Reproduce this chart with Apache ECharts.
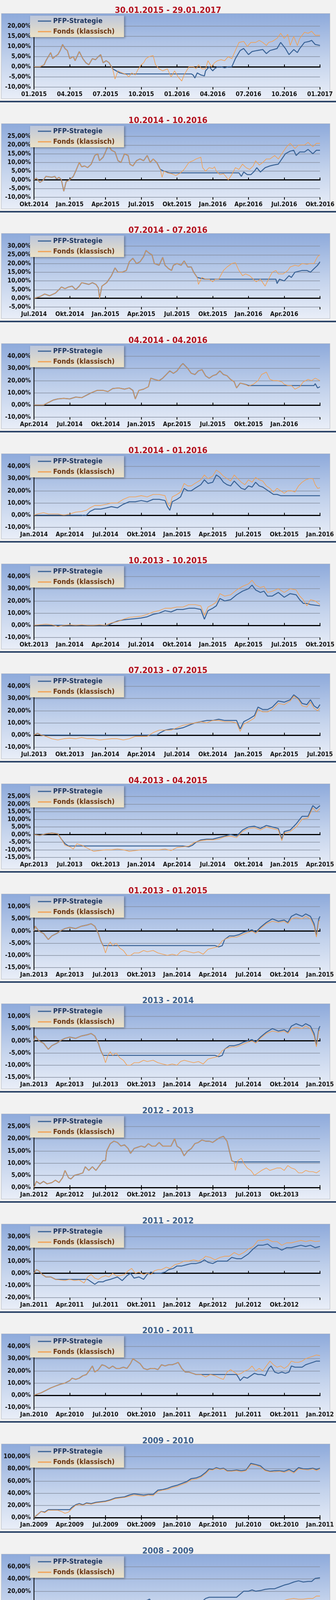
<!DOCTYPE html>
<html><head><meta charset="utf-8">
<script src="https://cdn.jsdelivr.net/npm/echarts@6/dist/echarts.min.js"></script>
<style>
body{margin:0;background:#f2f2f2;width:860px;height:4232px;position:relative;overflow:hidden}
.pan{position:absolute;left:0;width:860px;height:282px}
.box{position:absolute;left:3px;top:34px;width:840px;height:217px;border:1px solid #b8bcc4;background:linear-gradient(#8eaadb,#c4d3ec 55%,#e9eef8)}
.sep{position:absolute;left:0;top:258px;width:860px;height:4px;background:#2b4468}
.ch{position:absolute;left:0;top:0;width:860px;height:258px}
</style></head><body>
<script>
// ---------- DATA ----------
const titles=["30.01.2015 - 29.01.2017","10.2014 - 10.2016","07.2014 - 07.2016","04.2014 - 04.2016","01.2014 - 01.2016","10.2013 - 10.2015","07.2013 - 07.2015","04.2013 - 04.2015","01.2013 - 01.2015","2013 - 2014","2012 - 2013","2011 - 2012","2010 - 2011","2009 - 2010","2008 - 2009"];
const xLabels1=["01.2015","04.2015","07.2015","10.2015","01.2016","04.2016","07.2016","10.2016","01.2017"];
const xLabels2=["Okt.2014","Jan.2015","Apr.2015","Jul.2015","Okt.2015","Jan.2016","Apr.2016","Jul.2016","Okt.2016"];
const xLabels3=["Jul.2014","Okt.2014","Jan.2015","Apr.2015","Jul.2015","Okt.2015","Jan.2016","Apr.2016",""];
const xLabels4=["Apr.2014","Jul.2014","Okt.2014","Jan.2015","Apr.2015","Jul.2015","Okt.2015","Jan.2016",""];
const xLabels5=["Jan.2014","Apr.2014","Jul.2014","Okt.2014","Jan.2015","Apr.2015","Jul.2015","Okt.2015","Jan.2016"];
const xLabels6=["Okt.2013","Jan.2014","Apr.2014","Jul.2014","Okt.2014","Jan.2015","Apr.2015","Jul.2015","Okt.2015"];
const xLabels7=["Jul.2013","Okt.2013","Jan.2014","Apr.2014","Jul.2014","Okt.2014","Jan.2015","Apr.2015","Jul.2015"];
const xLabels8=["Apr.2013","Jul.2013","Okt.2013","Jan.2014","Apr.2014","Jul.2014","Okt.2014","Jan.2015","Apr.2015"];
const xLabels9=["Jan.2013","Apr.2013","Jul.2013","Okt.2013","Jan.2014","Apr.2014","Jul.2014","Okt.2014","Jan.2015"];
const xLabels11=["Jan.2012","Apr.2012","Jul.2012","Okt.2012","Jan.2013","Apr.2013","Jul.2013","Okt.2013",""];
const xLabels12=["Jan.2011","Apr.2011","Jul.2011","Okt.2011","Jan.2012","Apr.2012","Jul.2012","Okt.2012",""];
const xLabels13=["Jan.2010","Apr.2010","Jul.2010","Okt.2010","Jan.2011","Apr.2011","Jul.2011","Okt.2011","Jan.2012"];
const xLabels14=["Jan.2009","Apr.2009","Jul.2009","Okt.2009","Jan.2010","Apr.2010","Jul.2010","Okt.2010","Jan.2011"];
const xLabels15=["Jan.2008","Apr.2008","Jul.2008","Okt.2008","Jan.2009","Apr.2009","Jul.2009","Okt.2009","Jan.2010"];
// y axis ranges [min,max,interval] in %
const yRanges=[[-10,20,5],[-10,25,5],[-5,30,5],[-10,40,10],[-10,40,10],[-10,40,10],[-10,40,10],[-15,25,5],[-15,10,5],[-15,10,5],[0,25,5],[-20,30,10],[-10,40,10],[0,100,20],[-40,60,20]];

// values: [month since start, % return]
const shared1=[[0,0],[0.5,0],[0.85,1],[1.0,3],[1.4,7],[1.57,4],[1.75,5],[2.0,6],[2.2,8],[2.4,11],[2.6,9],[2.8,8],[3.0,4],[3.3,5],[3.45,3],[3.8,7.5],[4.1,4],[4.35,2],[4.6,1],[4.9,4],[5.16,3.5],[5.4,5],[5.6,6],[5.8,2],[6.06,3],[6.3,2],[6.6,-1]];
const fondsTail1=[[6.8,-6],[7.05,-2],[7.4,-3],[7.8,-4],[7.95,-5],[8.2,-3],[8.5,-4],[8.76,-1],[9.0,1],[9.2,2],[9.4,4],[9.66,5],[10.0,5.5],[10.2,1],[10.5,-1],[10.8,-2],[11.2,-1],[11.5,-5],[11.8,-2],[12.1,-5],[12.4,-7],[12.6,-4],[13.0,0],[13.4,0],[13.6,-1],[13.8,1],[14.1,-1],[14.4,-1],[14.6,3],[14.9,0],[15.15,2],[15.4,3],[15.7,3.5],[16.0,3],[16.3,5],[16.6,4],[16.9,8],[17.2,12],[17.6,12.5],[17.9,10],[18.2,12],[18.6,12],[18.9,13],[19.2,12],[19.5,10.5],[19.7,12],[20.0,12.5],[20.4,14],[20.7,16.5],[21.0,14],[21.3,16],[21.5,10.5],[21.8,15],[22.1,10.5],[22.3,14],[22.7,17],[23.0,16.5],[23.3,17.5],[23.6,15.5],[24,15.5]];
const pfpTail1=[[6.9,-2],[7.2,-3],[7.6,-3.5],[13.2,-3.5],[13.35,-4],[13.5,-5.5],[13.7,-3],[14.0,-4],[14.3,-4.5],[14.4,-2],[14.7,0],[15.0,-2],[15.15,-1],[15.4,0],[15.7,0],[16.0,-0.5],[16.3,0],[16.6,0],[16.9,4],[17.3,8],[17.6,9],[18.0,6],[18.3,7.5],[18.7,8],[19.2,8.5],[19.5,6.5],[19.8,8],[20.4,9],[20.7,12],[21.1,9],[21.4,6],[21.8,8.5],[22.1,7],[22.3,9],[22.7,12],[23.1,12.5],[23.3,13],[23.6,11],[24,10.5]];

const shared2=[[0,0],[0.2,1],[0.5,-1.5],[0.8,0],[1.0,2],[1.5,1.5],[1.75,2],[1.9,0.5],[2.1,1.5],[2.3,0],[2.5,-6.5],[2.7,-1],[3,0],[3.3,2],[3.5,5],[3.8,10],[4.0,7.5],[4.25,8],[4.5,7],[4.8,9],[5.1,14],[5.35,15],[5.5,11],[5.8,13],[6.0,16],[6.25,20],[6.5,17],[6.8,16],[7.05,11],[7.3,10],[7.6,15],[7.9,14],[8.05,9],[8.3,8],[8.6,11],[8.9,12],[9.2,11],[9.5,14],[9.75,10],[10.0,12],[10.3,10],[10.6,6]];
const fondsTail2=[[10.75,1.5],[10.9,5],[11.2,4],[11.55,3.5],[11.9,2.5],[12.3,4],[12.6,6],[13.0,10],[13.35,11],[13.6,12],[14.0,13],[14.15,7],[14.4,5],[14.7,7],[15.0,6.5],[15.15,7.5],[15.3,5],[15.6,3],[15.9,3.5],[16.1,2],[16.3,0],[16.6,3],[16.9,7],[17.2,6],[17.5,9],[17.8,7],[18.1,6],[18.4,8],[18.6,11],[18.9,8.5],[19.2,10],[19.5,12],[19.8,12],[20.2,14],[20.5,12],[20.9,16],[21.2,19],[21.5,21],[21.9,18],[22.2,20],[22.7,20],[23.0,21.5],[23.4,19],[23.7,21],[24,21]];
const pfpTail2=[[10.9,5],[11.4,4],[17.2,4],[17.4,2],[17.6,4.5],[17.9,3],[18.2,3],[18.5,5],[18.7,7],[19.0,4.5],[19.4,7],[19.8,8],[20.1,8.5],[20.5,9],[20.7,11],[21.1,15],[21.5,16.5],[21.8,17],[22.0,14],[22.3,16],[22.7,16],[23.0,17.5],[23.4,15],[23.7,17],[24,17]];

const shared3=[[0,0],[0.5,1],[0.9,2.5],[1.3,1.5],[1.8,3],[2.1,5],[2.3,6.5],[2.6,5.5],[2.9,6.5],[3.2,7],[3.5,5],[3.8,7],[4.0,9],[4.3,8.5],[4.6,8],[4.9,9],[5.2,8],[5.4,6],[5.5,0],[5.7,7],[6.1,9],[6.5,13],[6.8,17.5],[7.05,15],[7.4,15],[7.75,16],[8.0,21],[8.3,23],[8.6,20],[8.9,21],[9.2,24],[9.4,27.5],[9.65,26],[9.9,25],[10.1,20],[10.5,19],[10.8,23.5],[11.0,19],[11.3,17],[11.55,16],[11.7,19],[12.0,20],[12.35,19],[12.6,21.5],[12.9,18],[13.2,18],[13.4,15],[13.7,12]];
const fondsTail3=[[13.8,8],[14.1,12],[14.4,11],[14.7,11],[15.0,9.5],[15.2,11],[15.5,11],[15.9,16],[16.2,18],[16.6,20],[16.9,20.5],[17.2,16],[17.5,13],[17.75,14],[18.1,13],[18.4,11],[18.65,9.5],[19.0,11],[19.4,7],[19.6,10],[20.0,15],[20.3,16],[20.5,14],[20.9,14],[21.3,16],[21.5,18],[21.9,19],[22.2,18.5],[22.5,20],[22.9,19.5],[23.2,20],[23.5,20],[23.8,24],[24,25]];
const pfpTail3=[[14.0,11.5],[14.4,11],[20.3,11],[20.4,8.5],[20.6,11],[21.0,10],[21.4,13],[21.6,12],[21.9,15],[22.2,15.5],[22.5,16],[22.9,16],[23.2,15],[23.5,17],[23.8,19],[24,21]];

const shared4=[[0,0],[0.8,0],[1.2,2],[1.6,4],[2.0,5],[2.5,5.5],[3.0,5],[3.5,6.5],[4.0,6],[4.4,8],[4.8,10],[5.3,12],[5.8,12],[6.2,11],[6.6,13.5],[7.1,14],[7.6,13],[8.0,14],[8.3,12],[8.5,5],[8.8,12],[9.2,13],[9.6,15],[9.8,22],[10.1,21],[10.5,20],[10.8,22],[11.1,25],[11.4,28],[11.7,26],[12.0,28],[12.3,32],[12.5,34],[12.9,30],[13.2,26],[13.5,25],[13.8,28],[14.1,29],[14.4,24],[14.7,22],[15.0,24],[15.3,25],[15.6,28],[15.9,25],[16.2,24],[16.5,21],[16.8,19],[17.0,14],[17.3,18]];
const fondsTail4=[[17.7,17],[18.0,15.5],[18.4,17],[18.8,20],[19.1,25],[19.5,27],[19.8,21],[20.1,20],[20.4,20],[20.8,19],[21.0,17],[21.3,16],[21.6,16],[21.9,13],[22.3,15],[22.6,19],[23.0,21],[23.3,20],[23.6,22],[24,20]];
const pfpTail4=[[17.7,17],[18.0,16],[23.5,16],[23.6,17.5],[23.8,14],[24,15]];

const fonds5=[[0,0],[0.3,1],[0.8,2],[1.2,1],[1.6,1],[2.0,1],[2.5,0],[3,1],[3.5,2.5],[4.0,3],[4.4,4],[4.7,6],[5.1,8],[5.6,8],[6.1,9],[6.5,10],[7.0,10],[7.5,13],[8.0,15],[8.5,15],[9.0,16],[9.5,15],[10.0,17],[10.5,17],[11.0,16],[11.2,10],[11.4,7],[11.6,15],[12.0,17],[12.3,19],[12.6,26],[12.9,24],[13.2,24],[13.5,26],[14.0,29],[14.3,33],[14.6,30],[15.0,32],[15.3,37],[15.6,35],[15.9,32],[16.2,30],[16.5,28],[16.8,33],[17.1,30],[17.4,27],[17.7,25],[18.0,29],[18.3,27],[18.6,31],[18.9,29],[19.2,28],[19.5,24],[19.8,22],[20.1,19],[20.4,22],[20.7,20],[21.0,18],[21.3,20],[21.6,20],[21.9,19],[22.2,24],[22.5,27],[22.8,29],[23.1,30],[23.4,30],[23.6,25],[23.8,22],[24,22.5]];
const pfp5=[[0,0],[4.0,0],[4.2,-0.5],[4.4,0],[4.7,3],[5.1,5],[5.6,5],[6.1,6],[6.5,7],[7.0,6],[7.5,9],[8.0,11],[8.5,11],[9.0,12],[9.5,11],[10.0,13],[10.5,13],[11.0,12],[11.2,7],[11.4,4],[11.6,11],[12.0,13],[12.3,15],[12.6,22],[12.9,20],[13.2,20],[13.5,22],[14.0,25],[14.3,29],[14.6,26],[15.0,27],[15.3,33],[15.6,31],[15.9,27],[16.2,25],[16.5,24],[16.8,28],[17.1,25],[17.4,22],[17.7,21],[18.0,24],[18.3,23],[18.6,27],[18.9,24],[19.2,23],[19.5,21],[19.8,19],[20.1,17],[20.4,17],[20.7,16],[24,16]];

const fonds6=[[0,0],[0.5,0.5],[1,1],[1.5,0.5],[2,-1],[2.5,0],[3,0.5],[3.5,0],[4,0.5],[4.5,0],[5,0],[5.5,0.5],[6,0],[6.5,2],[7,3],[7.5,5],[8,6.5],[8.5,7],[9,7.5],[9.5,9],[10,11],[10.5,12],[11,14],[11.5,14],[12,15],[12.5,15],[13,17],[13.5,17],[14,16],[14.3,8],[14.6,15],[15,17],[15.3,19],[15.6,26],[16,24],[16.5,25],[17,29],[17.5,32],[18,34],[18.3,37],[18.6,33],[19,31],[19.3,32],[19.6,27],[20,28],[20.5,30],[21,27],[21.5,30],[22,29],[22.3,24],[22.6,21],[22.9,16],[23.2,21],[23.6,20],[24,17]];
const pfp6=[[0,0],[6.2,0],[6.6,2],[7,3.5],[7.5,4.5],[8,5],[8.5,5.5],[9,6],[9.5,7],[10,9],[10.5,10],[11,12],[11.5,11],[12,13],[12.5,13],[13,14],[13.5,14],[14,13],[14.3,5],[14.6,12],[15,14],[15.3,16],[15.6,22],[16,20],[16.5,21],[17,25],[17.5,28],[18,30],[18.3,33],[18.6,29],[19,27],[19.3,28],[19.6,24],[20,24],[20.5,27],[21,23],[21.5,26],[22,25],[22.3,21],[22.6,18],[22.9,18],[23.2,17],[24,16]];

const fonds7=[[0,0],[0.3,1.5],[0.6,0],[1,-1],[1.5,-3],[2,-4],[2.5,-3],[3,-2.5],[3.5,-3],[4,-2],[4.5,-3],[5,-3],[5.5,-4],[6,-3.5],[6.5,-3],[7,-3],[7.5,-4],[8,-3],[8.5,-1],[9,-1],[9.5,-1],[10,2],[10.5,4],[11,4],[11.5,4],[12,6],[12.5,8],[13,9],[13.5,10],[14,11],[14.5,10],[15,12],[15.5,12],[16,11],[16.5,11],[17,10],[17.3,3],[17.6,9],[18,11],[18.5,14],[18.8,21],[19.2,19],[19.6,19],[20,21],[20.5,26],[21,25],[21.5,28],[21.8,32],[22.2,29],[22.5,24],[22.9,23],[23.2,27],[23.5,22],[23.8,20],[24,22]];
const pfp7=[[0,0],[0.3,1.5],[0.6,0],[10.3,0],[10.6,2],[11,4],[11.5,5],[12,5],[12.5,6],[13,8],[13.5,10],[14,11],[14.5,12],[15,12],[15.5,13],[16,12],[16.5,12],[17,12],[17.3,5],[17.6,11],[18,13],[18.5,16],[18.8,23],[19.2,21],[19.6,21],[20,23],[20.5,28],[21,27],[21.5,29],[21.8,33],[22.2,30],[22.5,26],[22.9,25],[23.2,29],[23.5,24],[23.8,22],[24,25]];

const fonds8=[[0,0],[0.5,-0.5],[1,0.5],[1.5,1],[2,0.5],[2.3,-3],[2.6,-7],[3,-8],[3.3,-9.5],[3.6,-6],[4,-7],[4.5,-9],[5,-11],[5.5,-10.5],[6,-10],[6.5,-10],[7,-9.5],[7.5,-10],[8,-11],[8.5,-10.5],[9,-10],[9.5,-10],[10,-10],[10.5,-10],[11,-9.5],[11.5,-10.5],[12,-8.5],[12.5,-8],[13,-7.5],[13.5,-5],[14,-4],[14.5,-3.5],[15,-3.5],[15.5,-3],[16,-1.5],[16.5,-1],[17,-2],[17.5,2],[18,4],[18.5,4.5],[19,3],[19.5,5],[20,4],[20.5,3],[20.8,-4],[21,1],[21.5,2],[22,5],[22.5,10],[23,11],[23.4,17.5],[23.7,15],[24,17]];
const pfp8=[[0,0],[0.5,-0.5],[1,0.5],[1.5,1],[2,0.5],[2.3,-3],[2.6,-6],[2.9,-7.5],[12.5,-7.5],[13,-8],[13.3,-7],[13.6,-5],[14,-3.5],[14.5,-3],[15,-3],[15.5,-2],[16,-1],[16.5,0],[17,-1],[17.5,3],[18,5],[18.5,5.5],[19,4],[19.5,6],[20,5],[20.5,4],[20.8,-3],[21,2],[21.5,3],[22,7],[22.5,12],[23,12],[23.4,19],[23.7,17],[24,19]];

const shared9=[[0,0],[0.1,2],[0.4,0],[0.8,-1],[1.2,-3.5],[1.5,-2],[1.9,-1],[2.2,0],[2.6,1],[3,1.5],[3.5,1],[4,2],[4.5,2.5],[4.8,3],[5.1,2],[5.4,-1],[5.6,-4],[5.8,-6]];
const fondsTail9=[[6,-9],[6.2,-6],[6.4,-4.5],[6.6,-6],[6.9,-5],[7.2,-7],[7.5,-8],[7.8,-10],[8.1,-10],[8.4,-9],[8.8,-9],[9.2,-8],[9.5,-8.5],[10,-8],[10.4,-9],[10.8,-9.5],[11.2,-10],[11.6,-9.5],[12,-10],[12.3,-8.5],[12.6,-8],[13,-8.5],[13.4,-9],[13.8,-8.5],[14.2,-9.5],[14.6,-7.5],[15,-7],[15.4,-6.5],[15.8,-4],[16.2,-3],[16.6,-2.5],[17,-2.5],[17.5,-1.5],[18,-0.5],[18.3,0],[18.6,-1],[19,1],[19.5,3],[20,4],[20.5,3.5],[21,4],[21.3,3],[21.6,5],[22,5.5],[22.5,5],[22.8,6],[23.2,5],[23.5,2],[23.7,-2.5],[23.9,4],[24,4.5]];
const pfpTail9=[[6.0,-6],[15.2,-6],[15.5,-6.5],[15.8,-6],[16.0,-3.5],[16.4,-2],[16.8,-2],[17.2,-1.5],[17.6,-0.5],[18.0,0],[18.3,0.5],[18.6,-0.5],[19,1.5],[19.5,3.5],[20,5],[20.5,4],[21,4.5],[21.3,3.5],[21.6,6],[22,7],[22.5,6],[22.8,7],[23.2,6],[23.5,3],[23.7,-2],[23.9,5],[24,6]];

const shared11=[[0,0],[0.2,2.5],[0.5,1.5],[0.8,2.5],[1.1,1.5],[1.5,2],[1.8,3],[2.1,2],[2.4,4],[2.6,7],[2.9,4],[3.1,3.5],[3.4,5],[3.8,5.5],[4.1,6],[4.3,8.5],[4.6,7],[4.9,8.5],[5.2,7],[5.5,9],[5.8,11],[6.0,11],[6.1,15],[6.4,18],[6.7,19],[7.0,18.5],[7.3,17],[7.6,17.5],[7.9,16],[8.1,14],[8.4,16],[8.7,16.5],[9.0,17],[9.3,16.5],[9.6,18],[9.9,17],[10.2,17],[10.5,18.5],[10.8,17],[11.1,17],[11.5,17],[11.8,20],[12.0,17],[12.3,16],[12.6,13],[12.9,15],[13.2,16],[13.5,18],[13.8,18.5],[14.1,19.5],[14.4,19],[14.7,19],[15.0,18.5],[15.3,19.5],[15.6,20.5],[15.9,21],[16.2,19],[16.4,15],[16.6,11],[16.8,10.5]];
const fondsTail11=[[16.9,7],[17.1,11],[17.4,12],[17.6,10],[17.9,8],[18.2,7],[18.5,5],[18.8,6],[19.1,7],[19.5,8],[19.8,7],[20.1,7.5],[20.4,8],[20.7,8],[21.0,7],[21.3,9],[21.6,8],[21.9,7.5],[22.2,6],[22.5,6],[22.8,7],[23.1,6.5],[23.4,6.5],[23.7,6],[24,7]];
const pfpTail11=[[17.0,10.5],[24,10.5]];

const fonds12=[[0,0],[0.2,3],[0.4,2],[0.7,-1],[1,-3],[1.4,-3],[1.8,-5],[2.2,-5.5],[2.6,-6],[3,-5],[3.4,-6],[3.8,-5.5],[4.2,-8],[4.5,-3],[4.8,-1],[5.1,-4],[5.4,-5],[5.7,-3],[6.0,-2],[6.3,-3],[6.6,0],[6.9,-2],[7.2,-2],[7.6,-1],[7.9,2],[8.2,4],[8.5,0],[8.8,1],[9.2,-1],[9.5,0],[9.8,-1],[10.1,2],[10.4,3],[10.7,3],[11.1,5],[11.4,4],[11.8,7],[12.2,8],[12.6,10],[13.0,10],[13.4,11],[13.8,10],[14.2,12],[14.4,14],[14.8,13],[15.2,11],[15.6,13],[16.0,14],[16.4,14],[16.8,17],[17.2,15],[17.6,17],[18.0,20],[18.4,22],[18.8,27],[19.2,27],[19.6,28],[20.0,26],[20.4,26],[20.8,23],[21.2,25],[21.6,25],[22.0,26],[22.4,27],[22.8,26],[23.2,27],[23.6,26],[24,26.5]];
const pfp12=[[0,0],[0.2,3],[0.4,2],[0.7,-1],[1,-3],[1.4,-3],[1.8,-5],[4.5,-5],[5.1,-9],[5.4,-7],[5.8,-7],[6.0,-6],[6.4,-5],[6.7,-4],[7.0,-3],[7.4,-6],[7.8,-2],[8.1,0],[8.4,-4],[8.8,-3],[9.2,-5],[9.5,-1],[9.8,1],[10.2,0],[10.6,0],[11.0,1],[11.3,3],[11.7,4],[12.0,6],[12.4,6],[12.8,7],[13.2,8],[13.6,8],[14.0,9],[14.3,11],[14.6,9],[15.0,8],[15.4,10],[15.8,10],[16.2,10],[16.6,13],[17.0,12],[17.4,12],[17.7,14],[18.0,16],[18.4,20],[18.8,23],[19.2,23],[19.6,24],[20.0,21],[20.4,21],[20.8,19],[21.2,21],[21.6,21],[22.0,22],[22.4,23],[22.8,22],[23.2,23],[23.6,21],[24,22]];

const shared13=[[0,0],[0.3,1],[0.6,2],[1.0,4],[1.4,6],[1.8,7.5],[2.2,9],[2.6,10],[3.0,12],[3.2,14],[3.5,13],[3.8,14],[4.1,16],[4.4,17],[4.7,21],[4.9,24],[5.1,19],[5.4,21],[5.7,25],[6.0,24],[6.3,22],[6.6,24],[6.9,22],[7.2,22],[7.5,23],[7.8,22],[8.1,26],[8.3,30],[8.6,28],[8.9,26],[9.2,22],[9.5,21],[9.8,22],[10.1,22],[10.4,21],[10.7,25],[11.0,24],[11.3,25],[11.6,25],[11.9,26],[12.1,27],[12.4,22],[12.7,19],[13.0,19],[13.3,18],[13.6,17]];
const fondsTail13=[[14.0,17],[14.4,15],[14.8,17],[15.2,16],[15.6,14],[15.9,13],[16.2,19],[16.5,21],[16.8,19],[17.1,17],[17.4,18],[17.7,20],[18.0,21],[18.3,24],[18.6,20],[18.9,22],[19.2,20],[19.5,24],[19.8,28],[20.1,25],[20.4,23],[20.7,24],[21.0,22],[21.3,24],[21.6,28],[21.9,27],[22.2,27],[22.5,28],[22.8,30],[23.1,31],[23.4,32],[23.7,33],[24,32.5]];
const pfpTail13=[[17.0,17],[17.2,14],[17.3,12],[17.6,15],[17.9,14],[18.2,16],[18.5,18],[18.8,17],[19.1,17],[19.4,16],[19.7,22],[19.9,24],[20.2,19],[20.5,18],[20.8,19],[21.1,18],[21.4,19],[21.6,24],[21.9,23],[22.2,23],[22.5,23],[22.8,25],[23.1,26],[23.4,27],[23.7,28],[24,28]];

const fonds14=[[0,0],[0.3,5],[0.6,10],[0.9,8],[1.2,12],[1.6,12],[2.0,12],[2.3,10],[2.6,7],[2.9,9],[3.2,15],[3.5,20],[3.8,22],[4.1,20],[4.4,23],[4.8,22],[5.2,24],[5.6,25],[6.0,26],[6.4,28],[6.8,31],[7.2,32],[7.6,33],[8.0,35],[8.4,37],[8.8,36],[9.2,35],[9.6,37],[10.0,36],[10.4,43],[10.8,45],[11.2,46],[11.6,49],[12.0,51],[12.4,54],[12.8,57],[13.2,62],[13.6,63],[14.0,66],[14.4,72],[14.7,78],[15.0,78],[15.3,81],[15.6,79],[15.9,80],[16.2,76],[16.6,76],[17.0,77],[17.4,75],[17.8,77],[18.2,87],[18.6,86],[19.0,83],[19.4,77],[19.8,75],[20.2,75],[20.6,76],[21.0,74],[21.4,77],[21.8,73],[22.2,80],[22.6,79],[23.0,78],[23.4,80],[23.7,77],[24,80]];
const pfp14=[[0,0],[0.3,5],[0.6,10],[0.9,9],[1.2,13],[1.6,13],[2.0,13],[3.0,13],[3.2,17],[3.5,21],[3.8,23],[4.1,21],[4.4,24],[4.8,23],[5.2,25],[5.6,26],[6.0,27],[6.4,29],[6.8,32],[7.2,33],[7.6,34],[8.0,37],[8.4,39],[8.8,38],[9.2,37],[9.6,38],[10.0,38],[10.4,45],[10.8,46],[11.2,48],[11.6,51],[12.0,53],[12.4,56],[12.8,59],[13.2,64],[13.6,65],[14.0,68],[14.4,74],[14.7,80],[15.0,79],[15.3,82],[15.6,80],[15.9,81],[16.2,77],[16.6,77],[17.0,78],[17.4,77],[17.8,78],[18.2,89],[18.6,87],[19.0,85],[19.4,78],[19.8,76],[20.2,77],[20.6,77],[21.0,76],[21.4,79],[21.8,75],[22.2,82],[22.6,80],[23.0,80],[23.4,81],[23.7,79],[24,81]];

const fonds15=[[0,0],[0.5,1],[1,1.5],[1.5,0],[2,-2],[2.5,-4],[3,-6],[3.5,-6],[4,-7],[4.5,-5],[5,-4],[5.5,-5],[6,-3],[6.5,-5],[7,-8],[7.5,-7],[8,-5],[8.5,-2],[9,0],[9.5,3],[9.8,-3],[10.2,-6],[10.5,-10],[10.8,-15],[11.1,-21],[11.4,-17],[11.7,-18],[12,-23],[12.3,-21],[12.6,-24],[12.8,-27],[13.1,-22],[13.4,-22],[13.7,-17],[14,-15],[14.3,-12],[14.6,-13],[15,-12],[15.3,-13],[15.6,-15],[15.9,-16],[16.2,-13],[16.5,-10],[16.8,-6],[17.1,-5],[17.4,-4],[17.8,-6],[18.2,-5],[18.6,-3],[19,-2],[19.4,-2],[19.8,0],[20.2,2],[20.6,3],[21,5],[21.4,7],[21.8,8],[22.2,7],[22.6,7],[23,8],[23.4,8],[23.7,12],[24,12]];
const pfp15=[[0,0],[0.5,1],[1,1],[1.5,0],[4.5,0],[5,-1],[5.5,-1],[6,-3],[6.5,-5],[7,-4],[7.5,-3],[8,-2],[8.5,0],[9,3],[9.5,5],[9.7,7],[9.9,0],[10.2,-2],[10.5,-5],[13.5,-5],[13.8,-3],[14.1,3],[14.4,8],[14.7,10],[17.0,10],[17.3,15],[17.6,20],[18.0,20],[18.3,22],[18.6,20],[19.0,21],[19.4,23],[19.8,24],[20.2,24],[20.6,27],[21.0,30],[21.4,32],[21.8,35],[22.2,37],[22.6,35],[23.0,36],[23.3,36],[23.6,41],[24,42]];

const panels=[
 [xLabels1,shared1.concat(pfpTail1),shared1.concat(fondsTail1)],
 [xLabels2,shared2.concat(pfpTail2),shared2.concat(fondsTail2)],
 [xLabels3,shared3.concat(pfpTail3),shared3.concat(fondsTail3)],
 [xLabels4,shared4.concat(pfpTail4),shared4.concat(fondsTail4)],
 [xLabels5,pfp5,fonds5],
 [xLabels6,pfp6,fonds6],
 [xLabels7,pfp7,fonds7],
 [xLabels8,pfp8,fonds8],
 [xLabels9,shared9.concat(pfpTail9),shared9.concat(fondsTail9)],
 [xLabels9,shared9.concat(pfpTail9),shared9.concat(fondsTail9)],
 [xLabels11,shared11.concat(pfpTail11),shared11.concat(fondsTail11)],
 [xLabels12,pfp12,fonds12],
 [xLabels13,shared13.concat(pfpTail13),shared13.concat(fondsTail13)],
 [xLabels14,pfp14,fonds14],
 [xLabels15,pfp15,fonds15]
];
// ---------- RENDER ----------
const FONT="'Liberation Sans Narrow','DejaVu Sans Condensed','Roboto Condensed',sans-serif";
const STEP=281.7;
panels.forEach((p,k)=>{
  const d=document.createElement('div');d.className='pan';d.style.top=(k*STEP)+'px';
  d.innerHTML='<div class="box"></div><div class="sep"></div><div class="ch"></div>';
  document.body.appendChild(d);
  const c=echarts.init(d.querySelector('.ch'),null,{renderer:'canvas'});
  const [labels,pfp,fonds]=p; const yr=yRanges[k];
  const xBase={type:'value',min:0,max:24,interval:3,splitLine:{show:false}};
  c.setOption({
    animation:false,
    title:{text:titles[k],left:'center',top:11,textStyle:{fontFamily:FONT,fontWeight:'bold',fontSize:22,color:k<9?'#b3121f':'#3b5f8c'}},
    grid:{left:87,right:41,top:67,height:156},
    legend:{left:77,top:40,orient:'vertical',itemWidth:34,itemHeight:3,itemGap:9,padding:[5,24,5,20],
      icon:'rect',backgroundColor:new echarts.graphic.LinearGradient(0,0,0,1,[{offset:0,color:'#bcc6dc'},{offset:1,color:'#ece2c6'}]),
      shadowColor:'rgba(0,0,0,0.35)',shadowBlur:5,shadowOffsetX:2,shadowOffsetY:2,
      textStyle:{fontFamily:FONT,fontSize:18,fontWeight:'bold'},
      data:[{name:'PFP-Strategie',textStyle:{color:'#1f3660'}},{name:'Fonds (klassisch)',textStyle:{color:'#6b3510'}}]},
    xAxis:[
      Object.assign({},xBase,{position:'bottom',axisLine:{show:false,onZero:false},axisTick:{show:false},
        axisLabel:{margin:11,fontFamily:FONT,fontWeight:'bold',fontSize:16,color:'#111',formatter:v=>labels[Math.round(v/3)]||''}}),
      Object.assign({},xBase,{position:'bottom',axisLine:{show:true,onZero:true,lineStyle:{color:'#000',width:3}},
        axisTick:{show:true,inside:true,length:6,lineStyle:{color:'#000',width:2}},axisLabel:{show:false}}),
      Object.assign({},xBase,{position:'bottom',axisLine:{show:false,onZero:true},
        axisTick:{show:true,inside:false,length:6,lineStyle:{color:'#000',width:2}},axisLabel:{show:false}})
    ],
    yAxis:{type:'value',min:yr[0],max:yr[1],interval:yr[2],
      axisLine:{show:true,lineStyle:{color:'#000',width:2}},axisTick:{show:false},
      splitLine:{lineStyle:{color:'#8790a2',width:1.5}},
      axisLabel:{margin:8,fontFamily:FONT,fontWeight:'bold',fontSize:16,color:'#111',formatter:v=>v.toFixed(2).replace('.',',')+'%'}},
    series:[
      {name:'PFP-Strategie',type:'line',data:pfp,showSymbol:false,xAxisIndex:0,lineStyle:{color:'#3a6396',width:2.5},itemStyle:{color:'#3a6396'}},
      {name:'Fonds (klassisch)',type:'line',data:fonds,showSymbol:false,xAxisIndex:0,lineStyle:{color:'#f2a052',width:1.6},itemStyle:{color:'#f2a052'}}
    ]
  });
});
</script></body></html>
